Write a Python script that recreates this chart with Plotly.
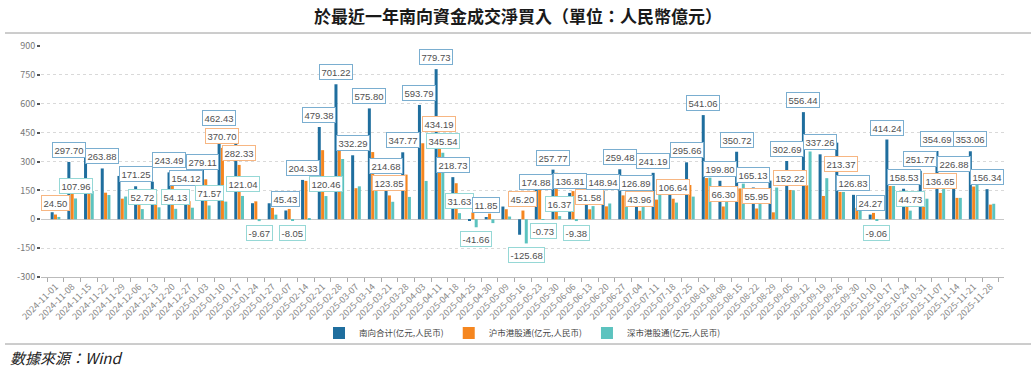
import plotly.graph_objects as go

# ---------------- data ----------------
dates = [
    "2024-11-01", "2024-11-08", "2024-11-15", "2024-11-22", "2024-11-29", "2024-12-06",
    "2024-12-13", "2024-12-20", "2024-12-27", "2025-01-03", "2025-01-10", "2025-01-17",
    "2025-01-24", "2025-01-27", "2025-02-07", "2025-02-14", "2025-02-21", "2025-02-28",
    "2025-03-07", "2025-03-14", "2025-03-21", "2025-03-28", "2025-04-03", "2025-04-11",
    "2025-04-18", "2025-04-25", "2025-04-30", "2025-05-09", "2025-05-16", "2025-05-23",
    "2025-05-30", "2025-06-06", "2025-06-13", "2025-06-20", "2025-06-27", "2025-07-04",
    "2025-07-11", "2025-07-18", "2025-07-25", "2025-08-01", "2025-08-08", "2025-08-15",
    "2025-08-22", "2025-08-29", "2025-09-05", "2025-09-12", "2025-09-19", "2025-09-26",
    "2025-09-30", "2025-10-10", "2025-10-17", "2025-10-24", "2025-10-31", "2025-11-07",
    "2025-11-14", "2025-11-21", "2025-11-28",
]

south_total = [
    36.50, 297.70, 329.00, 263.88, 225.00, 171.25, 195.00, 243.49, 154.12, 279.11,
    462.43, 395.00, 83.33, 83.00, 45.43, 204.33, 479.38, 701.22, 332.29, 575.80,
    214.68, 347.77, 593.79, 779.73, 218.73, -5.00, 11.85, 66.00, -80.48, 174.88,
    257.77, 136.81, 120.00, 148.94, 259.48, 126.89, 241.19, 193.14, 295.66, 541.06,
    199.80, 350.72, 165.13, 200.70, 302.69, 556.44, 337.26, 398.00, 126.83, 24.27,
    414.24, 158.53, 251.77, 354.69, 226.88, 353.06, 156.34,
]

sh_connect = [
    24.50, 189.74, 182.00, 138.00, 107.00, 118.53, 133.00, 189.36, 94.12, 207.54,
    370.70, 282.33, 93.00, 59.00, 53.48, 199.33, 358.92, 388.22, 161.29, 349.00,
    123.85, 231.77, 394.79, 434.19, 187.10, 35.00, 29.00, 52.00, 45.20, 175.61,
    241.40, 146.19, 51.58, 67.00, 124.00, 43.96, 102.00, 106.64, 178.00, 214.00,
    66.30, 160.00, 55.95, 36.00, 152.22, 176.00, 121.00, 142.00, 59.00, 33.00,
    173.00, 113.80, 145.00, 136.65, 111.00, 170.00, 76.00,
]

sz_connect = [
    12.00, 107.96, 147.00, 125.88, 118.00, 52.72, 62.00, 54.13, 60.00, 71.57,
    91.73, 121.04, -9.67, 24.00, -8.05, 5.00, 120.46, 313.00, 171.00, 226.80,
    90.83, 116.00, 199.00, 345.54, 31.63, -41.66, -20.00, 14.00, -125.68, -0.73,
    16.37, -9.38, 68.42, 81.94, 135.48, 82.93, 139.19, 86.50, 117.66, 216.00,
    133.50, 185.00, 109.18, 164.70, 150.47, 352.00, 213.37, 142.00, 73.00, -9.06,
    173.00, 44.73, 106.77, 218.04, 111.00, 183.00, 80.34,
]

series_names = ["南向合计(亿元,人民币)", "沪市港股通(亿元,人民币)", "深市港股通(亿元,人民币)"]
y_ticks = [-300, -150, 0, 150, 300, 450, 600, 750, 900]

# labelled bars: week index, series index (0 total, 1 沪, 2 深), border colour series
label_week = [0, 1, 1, 3, 5, 5, 7, 7, 8, 9, 9, 10, 10, 11, 11, 12, 14, 14, 15, 16,
              16, 17, 18, 19, 20, 20, 21, 22, 23, 23, 23, 24, 24, 25, 26, 28, 28, 29, 29, 30,
              30, 31, 31, 32, 33, 34, 35, 35, 36, 37, 38, 39, 40, 40, 41, 42, 42, 44, 44, 45,
              46, 46, 48, 49, 49, 50, 51, 51, 52, 53, 53, 54, 55, 56]
label_series = [1, 0, 2, 0, 0, 2, 0, 2, 0, 0, 2, 0, 1, 1, 2, 2, 0, 2, 0, 0,
                2, 0, 0, 0, 0, 1, 0, 0, 0, 1, 2, 0, 2, 2, 0, 1, 2, 0, 2, 0,
                2, 0, 2, 1, 0, 0, 0, 1, 0, 1, 0, 0, 0, 1, 0, 0, 1, 0, 1, 0,
                0, 2, 0, 0, 2, 0, 0, 2, 0, 0, 1, 0, 0, 0]
label_colour = list(label_series)
label_colour[61] = 1
# small per-label layout nudges (pixels): index -> (dx, dy)
label_nudge = {9: (0, -8), 37: (0, -8), 44: (0, -3), 61: (14, 2)}

# ---------------- style ----------------
bar_colors = ["#1f6e9e", "#f5861f", "#5cc3bf"]
border_colors = ["#7aaed0", "#f7b682", "#96d8d6"]
FONT = "Noto Sans CJK SC, Noto Sans, sans-serif"

W, H = 1036, 382
ML, MR, MT, MB = 41, 32, 46, 105
plot_w = W - ML - MR
plot_h = H - MT - MB
BARGAP, BARGROUPGAP = 0.4, 0.1
slot = plot_w / len(dates) * (1 - BARGAP) / 3

fig = go.Figure()
for name, vals, col in zip(series_names, [south_total, sh_connect, sz_connect], bar_colors):
    fig.add_trace(go.Bar(x=dates, y=vals, name=name, marker=dict(color=col, line=dict(width=0))))

all_series = [south_total, sh_connect, sz_connect]
annotations = []
for k, (wk, s, c) in enumerate(zip(label_week, label_series, label_colour)):
    v = all_series[s][wk]
    dx, dy = label_nudge.get(k, (0, 0))
    pos = v >= 0
    annotations.append(dict(
        x=dates[wk], y=v, xref="x", yref="y",
        text=f"{v:.2f}", showarrow=False,
        xanchor="center", yanchor="bottom" if pos else "top",
        xshift=(s - 1) * slot + dx, yshift=(4 if pos else -4) + dy,
        font=dict(family="Liberation Sans, Arial, sans-serif", size=9.5, color="#505050"),
        bgcolor="white", bordercolor=border_colors[c], borderwidth=1, borderpad=1.5,
    ))

# source note
annotations.append(dict(
    x=(8 - ML) / plot_w, y=-(357 - (H - MB)) / plot_h, xref="paper", yref="paper",
    xanchor="left", yanchor="middle", showarrow=False,
    text="<i>數據來源：Wind</i>", font=dict(family="Noto Sans CJK TC, sans-serif", size=15, color="#222"),
))

shapes = []
for ypix in (33, 344):
    yp = ((H - MB) - ypix) / plot_h
    shapes.append(dict(type="line", xref="paper", yref="paper",
                       x0=(5 - ML) / plot_w, x1=(1031 - ML) / plot_w, y0=yp, y1=yp,
                       line=dict(color="#9a9a9a", width=1)))

fig.update_layout(
    width=W, height=H,
    margin=dict(l=ML, r=MR, t=MT, b=MB, pad=0),
    paper_bgcolor="white", plot_bgcolor="white",
    barmode="group", bargap=BARGAP, bargroupgap=BARGROUPGAP,
    title=dict(text="<b>於最近一年南向資金成交淨買入（單位：人民幣億元）</b>",
               x=0.5, xanchor="center", y=1 - 17 / H, yanchor="middle",
               font=dict(family="Noto Sans CJK TC, sans-serif", size=17, color="#1a1a1a")),
    font=dict(family=FONT, color="#666"),
    showlegend=True,
    legend=dict(orientation="h", x=0.5, xanchor="center",
                y=-(333 - (H - MB)) / plot_h, yanchor="middle",
                font=dict(family=FONT, size=8.5, color="#444"),
                itemwidth=30, traceorder="normal", bgcolor="rgba(0,0,0,0)"),
    xaxis=dict(type="category", tickangle=-45, tickson="boundaries",
               ticks="outside", ticklen=4, tickcolor="#aaa",
               showline=True, linecolor="#bbb", linewidth=1,
               showgrid=False, tickfont=dict(family=FONT, size=9, color="#888")),
    yaxis=dict(range=[-300, 900], tickvals=y_ticks, ticktext=[str(t) for t in y_ticks],
               ticks="outside", ticklen=3, tickwidth=2, tickcolor="#555",
               showgrid=True, gridcolor="#d9d9d9", griddash="dot", gridwidth=1,
               zeroline=True, zerolinecolor="#c8c8c8", zerolinewidth=1,
               showline=False, tickfont=dict(family=FONT, size=9, color="#777")),
    annotations=annotations, shapes=shapes,
)

fig.write_html("out.html", config={"displayModeBar": False},
               post_script="document.body.style.margin='0';document.body.style.overflow='hidden';")
